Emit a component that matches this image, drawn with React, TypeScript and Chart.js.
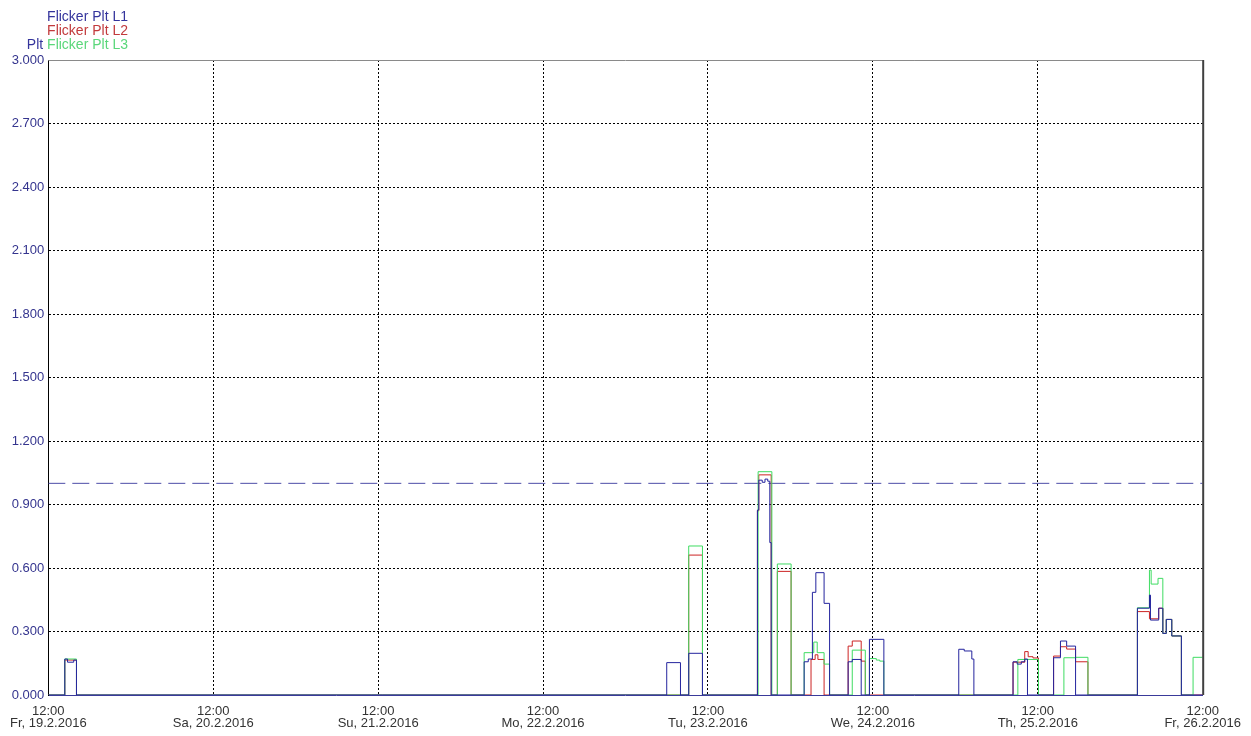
import React, { useEffect, useRef } from "react";
import { Chart, registerables } from "chart.js";

Chart.register(...registerables);

// ---- data ----
const dayLabels = [
  "Fr, 19.2.2016",
  "Sa, 20.2.2016",
  "Su, 21.2.2016",
  "Mo, 22.2.2016",
  "Tu, 23.2.2016",
  "We, 24.2.2016",
  "Th, 25.2.2016",
  "Fr, 26.2.2016",
];
const timeLabel = "12:00";
const yMin = 0;
const yMax = 3;
const yStep = 0.3;
const hoursSpan = 168;
const hourStep = 24;
const limitValue = 1.0;

// hours since 12:00 Fr 19.2.2016 -> value (step, holds until next hour)
const l1Hours = [0, 2.4, 2.8, 3.7, 4.1, 90.0, 92.0, 93.2, 95.2, 103.2, 103.4, 103.9, 104.3, 104.7, 105.0, 105.2, 110.0, 110.6, 111.2, 111.7, 112.9, 113.7, 116.4, 117.0, 118.3, 119.5, 121.6, 132.5, 133.3, 134.4, 134.7, 140.4, 141.0, 141.6, 142.1, 142.5, 146.3, 147.3, 148.2, 149.5, 158.5, 160.25, 160.4, 161.6, 162.2, 162.7, 163.5, 164.9, 168];
const l1Values = [0, 0.17, 0.155, 0.165, 0, 0.153, 0, 0.197, 0, 0.874, 1.015, 1.005, 1.02, 1.01, 0.72, 0, 0.157, 0.17, 0.485, 0.578, 0.433, 0, 0.157, 0.168, 0, 0.263, 0, 0.216, 0.208, 0.17, 0, 0.157, 0.146, 0.157, 0.17, 0, 0.176, 0.255, 0.231, 0, 0.41, 0.472, 0.354, 0.41, 0.291, 0.357, 0.279, 0, 0];

const l2Hours = [0, 2.4, 4.1, 93.2, 95.2, 103.2, 103.4, 105.2, 106.1, 108.1, 111.0, 111.6, 112.0, 112.9, 116.4, 117.0, 118.3, 118.9, 140.4, 142.1, 142.6, 143.3, 144.1, 146.3, 147.3, 148.2, 149.5, 151.3, 158.5, 160.25, 161.6, 162.2, 162.7, 163.5, 164.9, 168];
const l2Values = [0, 0.165, 0, 0.661, 0, 0.87, 1.04, 0, 0.584, 0, 0.168, 0.19, 0.168, 0, 0.231, 0.255, 0.16, 0, 0.155, 0.205, 0.181, 0.175, 0, 0.184, 0.228, 0.217, 0.157, 0, 0.394, 0.36, 0.41, 0.291, 0.357, 0.279, 0, 0];

const l3Hours = [0, 2.4, 4.1, 93.2, 95.2, 103.3, 105.3, 106.1, 108.1, 110.0, 111.4, 111.9, 112.9, 113.7, 117.0, 118.9, 119.5, 120.5, 121.0, 121.6, 141.1, 144.1, 147.8, 149.5, 151.3, 158.5, 160.25, 160.5, 161.5, 162.2, 162.7, 163.5, 164.9, 166.6, 168];
const l3Values = [0, 0.17, 0, 0.704, 0, 1.055, 0, 0.619, 0, 0.2, 0.25, 0.2, 0.146, 0, 0.212, 0, 0.172, 0.165, 0.16, 0, 0.168, 0, 0.176, 0.178, 0, 0.412, 0.59, 0.524, 0.551, 0.291, 0.357, 0.279, 0, 0.178, 0.178];

const seriesNames = ["Flicker Plt L1", "Flicker Plt L2", "Flicker Plt L3"];
const axisTitle = "Plt";

// ---- styles ----
const COL_L1 = "#24249e";
const COL_L2 = "#cc2424";
const COL_L3 = "#3fdc62";
const COL_LIMIT = "#4c4ca8";
const LEG_L1 = "#34349c";
const LEG_L2 = "#c23a3c";
const LEG_L3 = "#5ad77a";
const FONT = "'Liberation Sans', Arial, sans-serif";

const toPoints = (hs: number[], vs: number[]) => hs.map((h, i) => ({ x: h, y: vs[i] }));

const framePlugin = {
  id: "frame",
  afterDatasetsDraw(chart: any) {
    const { ctx, chartArea } = chart;
    const { left, right, top, bottom } = chartArea;
    ctx.save();
    ctx.setLineDash([]);
    ctx.lineWidth = 1;
    ctx.strokeStyle = "#8a8a8a";
    ctx.beginPath();
    ctx.moveTo(left, top + 0.5);
    ctx.lineTo(right, top + 0.5);
    ctx.stroke();
    ctx.strokeStyle = "#404040";
    ctx.lineWidth = 2;
    ctx.beginPath();
    ctx.moveTo(right + 0.5, top);
    ctx.lineTo(right + 0.5, bottom);
    ctx.stroke();
    ctx.restore();
  },
};

const stepDataset = (label: string, hs: number[], vs: number[], color: string, order: number) => ({
  label,
  data: toPoints(hs, vs),
  borderColor: color,
  borderWidth: 1,
  stepped: "before",
  pointRadius: 0,
  fill: false,
  order,
});

export default function App() {
  const ref = useRef<HTMLCanvasElement | null>(null);

  useEffect(() => {
    document.body.style.margin = "0";
    const canvas = ref.current;
    if (!canvas) return;
    const chart = new Chart(canvas, {
      type: "line",
      data: {
        datasets: [
          stepDataset(seriesNames[0], l1Hours, l1Values, COL_L1, 0),
          stepDataset(seriesNames[2], l3Hours, l3Values, COL_L3, 1),
          stepDataset(seriesNames[1], l2Hours, l2Values, COL_L2, 2),
          {
            label: "limit",
            data: [
              { x: 0, y: limitValue },
              { x: hoursSpan, y: limitValue },
            ],
            borderColor: COL_LIMIT,
            borderWidth: 1,
            borderDash: [17, 7],
            pointRadius: 0,
            fill: false,
            order: 3,
          },
        ],
      },
      options: {
        animation: false,
        responsive: false,
        maintainAspectRatio: false,
        devicePixelRatio: 1,
        layout: { padding: { top: 60, right: 46, left: 0, bottom: 0 } },
        plugins: {
          legend: { display: false },
          tooltip: { enabled: false },
          title: { display: false },
        },
        scales: {
          x: {
            type: "linear",
            min: 0,
            max: hoursSpan,
            afterFit: (s: any) => {
              s.height = 41;
            },
            ticks: {
              stepSize: hourStep,
              autoSkip: false,
              maxRotation: 0,
              minRotation: 0,
              padding: 10,
              color: "#333333",
              font: { family: FONT, size: 13, lineHeight: "12px" },
              callback: (v: any) => {
                const idx = Math.round(Number(v) / hourStep);
                return [timeLabel, dayLabels[idx] ?? ""];
              },
            },
            grid: {
              drawTicks: false,
              lineWidth: 1,
              color: (c: any) => {
                const v = c.tick ? c.tick.value : 0;
                return v <= 0 || v >= hoursSpan ? "rgba(0,0,0,0)" : "#000000";
              },
            },
            border: { display: true, color: "#3a3a9a", dash: [2, 2] },
          },
          y: {
            type: "linear",
            min: yMin,
            max: yMax,
            afterFit: (s: any) => {
              s.width = 47;
            },
            ticks: {
              stepSize: yStep,
              padding: 4,
              color: "#34348e",
              font: { family: FONT, size: 13 },
              callback: (v: any) => Number(v).toFixed(3),
            },
            grid: {
              drawTicks: false,
              lineWidth: 1,
              color: (c: any) => {
                const v = c.tick ? c.tick.value : 0;
                return v <= 0.001 || v >= yMax - 0.001 ? "rgba(0,0,0,0)" : "#000000";
              },
            },
            border: { display: true, color: "#000000", width: 1, dash: [2, 2] },
          },
        },
      } as any,
      plugins: [framePlugin],
    });
    return () => chart.destroy();
  }, []);

  const legendStyle = (top: number, color: string): React.CSSProperties => ({
    position: "absolute",
    left: 0,
    top,
    width: 128,
    textAlign: "right",
    fontFamily: FONT,
    fontSize: 14,
    lineHeight: "14px",
    color,
    whiteSpace: "nowrap",
  });

  return (
    <div style={{ position: "relative", width: 1251, height: 736, background: "#ffffff" }}>
      <canvas ref={ref} width={1251} height={736} style={{ display: "block", width: 1251, height: 736 }} />
      <div style={legendStyle(9, LEG_L1)}>{seriesNames[0]}</div>
      <div style={legendStyle(23, LEG_L2)}>{seriesNames[1]}</div>
      <div style={legendStyle(37, LEG_L3)}>
        <span style={{ color: LEG_L1 }}>{axisTitle}</span> {seriesNames[2]}
      </div>
    </div>
  );
}
